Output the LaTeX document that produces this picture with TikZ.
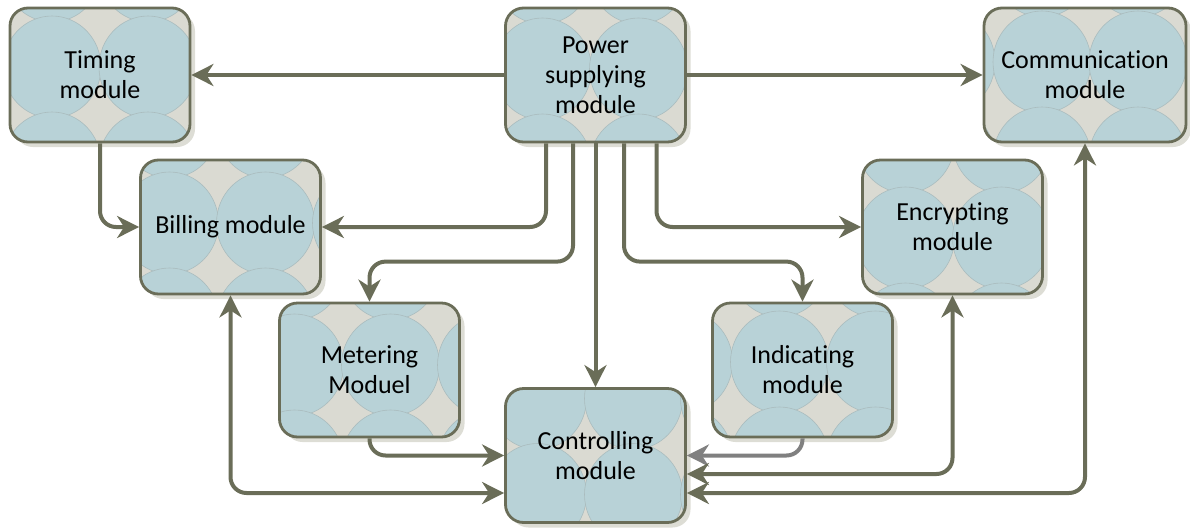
\documentclass[tikz,border=0pt]{standalone}
\usepackage{fontspec}
\setmainfont[Ligatures=NoCommon]{Carlito}
\usetikzlibrary{arrows.meta,shadows}
\definecolor{wire}{RGB}{106,109,88}
\definecolor{tileblue}{RGB}{184,210,215}
\definecolor{tilegray}{RGB}{218,218,210}
\definecolor{tileline}{RGB}{170,188,190}
\definecolor{shade}{RGB}{221,221,213}
\definecolor{pale}{RGB}{128,128,128}
\tikzset{
    module/.style 2 args = {
        draw=wire, line width=1.4pt, rectangle, rounded corners=9pt,
        align=center,
        minimum width=90pt,
        minimum height=67pt,
        font=\fontsize{13}{15}\selectfont,
        drop shadow={shadow xshift=2.5pt,shadow yshift=-2.5pt,fill=shade,opacity=1},
        path picture={
            \fill[tilegray] (path picture bounding box.south west)
                rectangle (path picture bounding box.north east);
            \foreach \i in {-2,...,2}
              \foreach \j in {-2,...,2}
                \filldraw[fill=tileblue,draw=tileline,line width=0.3pt]
                  ([shift={(#1+\i*96+48,#2+\j*96+48)}]path picture bounding box.center)
                  ellipse[x radius=24.5pt,y radius=25.5pt];
        }
    },
    link/.style = {
        draw=wire, line width=2pt, rounded corners=8pt,
        -{Stealth[length=11pt,width=11pt,inset=3.5pt]}
    },
    twoway/.style = {
        link, {Stealth[length=11pt,width=11pt,inset=3.5pt]}-{Stealth[length=11pt,width=11pt,inset=3.5pt]}
    }
}

\begin{document}
\begin{tikzpicture}[x=0.5pt,y=-0.5pt]
\useasboundingbox (0,0) rectangle (1190,531);

% 1. modules
\node[module={0}{40}]   (timing) at (100,75)    {Timing\\ module};
\node[module={-5}{42}]  (power)  at (595.5,75)  {Power\\ supplying\\ module};
\node[module={5}{35},minimum width=101pt] (comm) at (1085,75) {Communication\\ module};
\node[module={-13}{44}] (bill)   at (230.5,227) {Billing module};
\node[module={1}{-37}]  (enc)    at (952.5,227) {Encrypting\\ module};
\node[module={-27}{43}] (meter)  at (369.5,370) {Metering\\ Moduel};
\node[module={25}{40}]  (ind)    at (802.5,370) {Indicating\\ module};
\node[module={-10}{-9}] (ctrl)   at (595.5,455.5) {Controlling\\ module};

% 2. power supply lines
\draw[link] (power) -- (timing);
\draw[link] (power) -- (comm);
\draw[link] (power) -- (ctrl);
\draw[link] ([shift={(-49.5,0)}]power.south) |- (bill);
\draw[link] ([shift={(-22.5,0)}]power.south) |- ([shift={(0,-40)}]meter.north) -- (meter);
\draw[link] ([shift={(28.5,0)}]power.south) |- ([shift={(0,-40)}]ind.north) -- (ind);
\draw[link] ([shift={(61,0)}]power.south) |- (enc);

% 3. other lines
\draw[link] (timing) |- (bill);
\draw[link] (meter) |- (ctrl);
\draw[link,draw=pale] (ind) |- (ctrl);
\draw[twoway] (bill) |- ([shift={(0,37.5)}]ctrl.west);
\draw[twoway] (enc) |- ([shift={(0,18.5)}]ctrl.east);
\draw[twoway] (comm) |- ([shift={(0,37.5)}]ctrl.east);

\end{tikzpicture}
\end{document}
